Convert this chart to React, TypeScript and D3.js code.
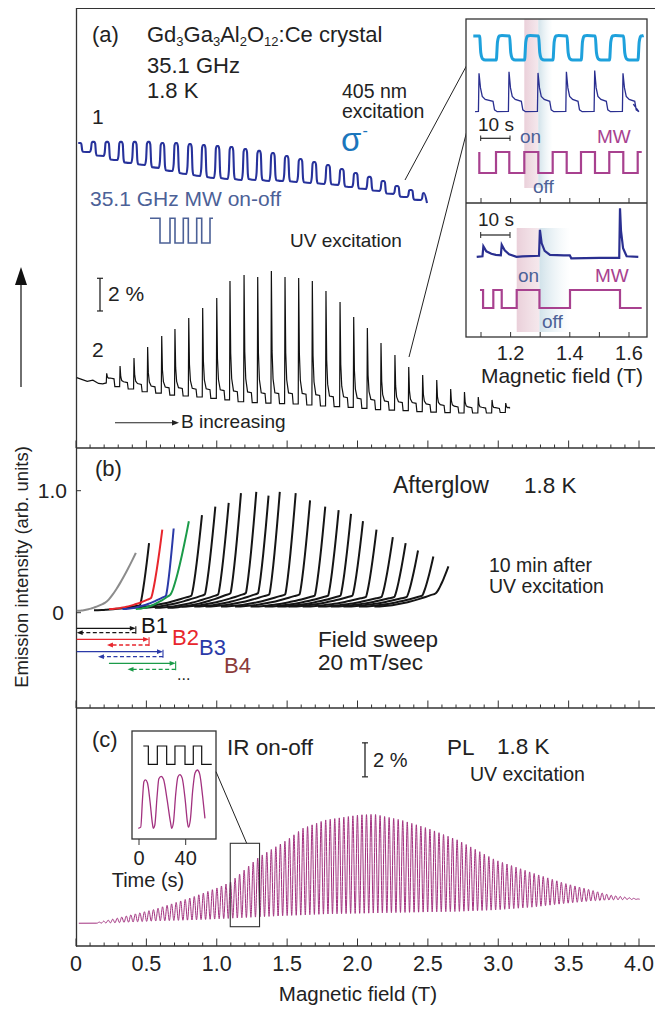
import React from "react";
import * as d3 from "d3";

const FONT = "'Liberation Sans', Arial, Helvetica, sans-serif";

// ---------- shared magnetic-field axis ----------
const fieldLabelValues = [0, 0.5, 1.0, 1.5, 2.0, 2.5, 3.0, 3.5, 4.0];
const fieldLabels = ["0", "0.5", "1.0", "1.5", "2.0", "2.5", "3.0", "3.5", "4.0"];

// ---------- panel (a), trace 1: 405 nm excitation, MW on-off dips (%) ----------
const t1DipField = [0.076, 0.174, 0.272, 0.37, 0.468, 0.566, 0.664, 0.762, 0.86, 0.958, 1.056, 1.155, 1.253,
  1.351, 1.449, 1.547, 1.645, 1.743, 1.841, 1.939, 2.037, 2.135, 2.233, 2.331, 2.429];
const t1Top = [18.65, 18.72, 18.72, 18.72, 18.72, 18.72, 18.65, 18.65, 18.59, 18.53, 18.47, 18.41, 18.29,
  18.17, 18.04, 17.86, 17.68, 17.49, 17.31, 17.06, 16.82, 16.58, 16.33, 16.02, 15.78];
const t1Bottom = [18.1, 17.86, 17.61, 17.43, 17.31, 17.13, 16.94, 16.76, 16.64, 16.51, 16.45, 16.39, 16.39,
  16.33, 16.33, 16.27, 16.21, 16.15, 16.09, 15.96, 15.84, 15.72, 15.54, 15.35, 15.17];
const t1Begin = { field: 0.016, value: 18.65 };
const t1LastTop = 15.6;
const t1Finish = { field: 2.494, value: 14.98 };

// ---------- panel (a), trace 2: UV excitation, spikes at MW switching (%) ----------
const t2PreField = [0.005, 0.04, 0.08, 0.12, 0.16, 0.19, 0.215];
const t2PreValue = [4.3, 4.2, 4.08, 4.15, 3.95, 3.92, 3.98];
const t2SpikeField = [0.218, 0.313, 0.412, 0.509, 0.609, 0.703, 0.801, 0.9, 1.0, 1.094, 1.194, 1.291, 1.388,
  1.485, 1.582, 1.679, 1.776, 1.876, 1.973, 2.07, 2.167, 2.266, 2.364, 2.463, 2.563, 2.662, 2.76, 2.858, 2.956, 3.053];
const t2SpikeTop = [4.57, 5.02, 5.5, 6.18, 6.85, 7.28, 7.95, 8.56, 9.17, 10.21, 10.58, 10.46, 10.83, 10.46, 10.4,
  10.21, 9.6, 8.93, 8.01, 7.34, 6.42, 5.69, 4.95, 4.46, 4.16, 3.61, 3.43, 3.12, 2.94, 2.75];
const t2Low = [3.98, 3.75, 3.61, 3.44, 3.36, 3.24, 3.18, 3.12, 3.03, 2.94, 2.83, 2.78, 2.75, 2.72, 2.69, 2.63,
  2.57, 2.53, 2.48, 2.42, 2.35, 2.32, 2.29, 2.23, 2.2, 2.16, 2.14, 2.14, 2.14, 2.17];
const t2Step = [0.25, 0.25, 0.28, 0.3, 0.32, 0.4, 0.42, 0.45, 0.48, 0.5, 0.55, 0.55, 0.58, 0.6, 0.6, 0.58, 0.56,
  0.55, 0.52, 0.5, 0.48, 0.46, 0.44, 0.42, 0.4, 0.35, 0.32, 0.3, 0.28, 0.26];
const t2EndField = 3.083;

// ---------- panel (a) insets (field in T) ----------
const mwUpperEdges = [1.0943, 1.1507, 1.1956, 1.2463, 1.2936, 1.3422, 1.3895, 1.4378, 1.4851, 1.5334, 1.5807, 1.6294];
const mwUpperRange = [1.0943, 1.643];
const blueUpperRange = [1.074, 1.647];
const navyUpperSpike = [1.0, 1.04, 1.01, 1.04, 1.07, 1.0];
const navyUpperRange = [1.08, 1.6145];
const mwLowerEdges = [1.107, 1.1416, 1.17, 1.2206, 1.2975, 1.4007, 1.5696];
const mwLowerRange = [1.0966, 1.6429];
const navyLowerField = [1.0855, 1.105, 1.108, 1.118, 1.135, 1.15, 1.167, 1.17, 1.18, 1.195, 1.22, 1.24, 1.296,
  1.299, 1.305, 1.315, 1.333, 1.38, 1.4, 1.405, 1.5, 1.567, 1.5696, 1.573, 1.58, 1.592, 1.6314];
const navyLowerValue = [0.03, 0.04, 0.24, 0.14, 0.09, 0.07, 0.06, 0.27, 0.16, 0.08, 0.03, 0.04, 0.05, 0.57, 0.3,
  0.15, 0.07, 0.06, 0.06, 0.0, 0.01, 0.01, 1.0, 0.55, 0.2, 0.04, 0.03];
const insetTickValues = [1.1, 1.2, 1.3, 1.4, 1.5, 1.6];
const insetLabelValues = [1.2, 1.4, 1.6];

// ---------- panel (b): afterglow field sweeps ----------
const agEnd = [0.425, 0.519, 0.613, 0.694, 0.802, 0.895, 0.99, 1.085, 1.172, 1.281, 1.368, 1.448, 1.561, 1.663,
  1.771, 1.866, 1.954, 2.039, 2.135, 2.251, 2.342, 2.43, 2.539, 2.646];
const agPeak = [0.49, 0.57, 0.68, 0.69, 0.75, 0.8, 0.87, 0.9, 0.98, 0.99, 0.96, 0.99, 0.98, 0.92, 0.87, 0.84,
  0.81, 0.75, 0.68, 0.62, 0.57, 0.51, 0.46, 0.38];
const agStart = [0.005, 0.128, 0.235, 0.33, 0.425, 0.37, 0.46, 0.56, 0.65, 0.75, 0.84, 0.92, 1.03, 1.13, 1.24,
  1.34, 1.43, 1.51, 1.61, 1.72, 1.81, 1.9, 2.01, 2.12];
const agStartVal = [0.015, 0.02, 0.03, 0.03, 0.03, 0.04, 0.04, 0.04, 0.04, 0.05, 0.05, 0.05, 0.05, 0.05, 0.05,
  0.05, 0.05, 0.05, 0.05, 0.05, 0.05, 0.05, 0.05, 0.05];
const agKneeVal = [0.08, 0.06, 0.12, 0.14, 0.15, 0.14, 0.15, 0.15, 0.16, 0.16, 0.16, 0.15, 0.15, 0.15, 0.14,
  0.14, 0.14, 0.14, 0.13, 0.13, 0.13, 0.13, 0.14, 0.16];
const agRise = [0.22, 0.065, 0.08, 0.055, 0.13, 0.075, 0.075, 0.075, 0.075, 0.075, 0.075, 0.075, 0.075, 0.075,
  0.075, 0.075, 0.075, 0.075, 0.075, 0.08, 0.08, 0.08, 0.08, 0.09];
const agColor = ["#8c8c8c", "#151515", "#e8262d", "#2b3aa8", "#1b9b49", "#151515", "#151515", "#151515",
  "#151515", "#151515", "#151515", "#151515", "#151515", "#151515", "#151515", "#151515", "#151515", "#151515",
  "#151515", "#151515", "#151515", "#151515", "#151515", "#151515"];
const sweepColor = ["#151515", "#e8262d", "#2b3aa8", "#1b9b49"];
const sweepForward = [[0.005, 0.425], [0.005, 0.519], [0.005, 0.618], [0.234, 0.708]];
const sweepBack = [[0.425, 0.005], [0.519, 0.22], [0.618, 0.156], [0.708, 0.366]];
const sweepRowY = [[628.3, 632.7], [639.3, 645], [651.7, 656.7], [663.3, 669.3]];

// ---------- panel (c): PL under IR on-off (%) ----------
const plEnvField = [0, 0.13, 0.29, 0.56, 0.83, 1.0, 1.1, 1.3, 1.5, 1.61, 1.77, 2.01, 2.12, 2.31, 2.5, 2.71,
  2.98, 3.25, 3.47, 3.66, 3.79, 4.01];
const plUpper = [1.34, 1.34, 1.63, 2.16, 2.88, 3.41, 3.77, 5.24, 6.24, 6.92, 7.41, 7.71, 7.75, 7.41, 6.92, 6.24,
  5.06, 4.28, 3.69, 3.29, 3.0, 2.75];
const plLower = [1.34, 1.34, 1.37, 1.47, 1.53, 1.59, 1.63, 1.71, 1.79, 1.82, 1.88, 1.92, 1.94, 1.97, 2.0, 2.03,
  2.12, 2.29, 2.5, 2.65, 2.71, 2.75];
const plFirstPeak = 0.164;
const plPeriod = 0.0322;
const plRange = [0.02, 4.007];
const irEdges = [8.0, 15.7, 23.7, 30.8, 39.4, 46.5, 53.7];
const irRange = [3.7, 62.3];
const irPlTime = [-0.6, 1.5, 3.0, 4.2, 5.5, 7.2, 9.5, 11.5, 12.3, 13.5, 15.5, 17.0, 19.0, 21.0, 24.0, 27.0, 28.0,
  29.5, 31.5, 33.3, 35.0, 37.0, 39.5, 41.5, 42.3, 44.0, 46.0, 48.0, 50.0, 52.0, 54.5, 56.5];
const irPlValue = [0, 0.02, 0.5, 0.8, 0.83, 0.78, 0.45, 0.08, 0.0, 0.05, 0.55, 0.85, 0.89, 0.84, 0.5, 0.1, 0.0,
  0.1, 0.6, 0.88, 0.92, 0.86, 0.5, 0.1, 0.02, 0.15, 0.65, 0.95, 1.0, 0.93, 0.55, 0.17];

type P = [number, number];

function stepPoints(edges: number[], range: number[], startHigh: boolean): P[] {
  let s = startHigh ? 1 : 0;
  const pts: P[] = [[range[0], s]];
  edges.forEach((e) => {
    pts.push([e, s]);
    s = 1 - s;
    pts.push([e, s]);
  });
  pts.push([range[1], s]);
  return pts;
}

export default function App() {
  const xF = d3.scaleLinear().domain([0, 4]).range([76, 639]);
  const yA = d3.scaleLinear().domain([0, 27.4]).range([448, 0]);
  const yB = d3.scaleLinear().domain([0, 1]).range([612.7, 490.7]);
  const yC = d3.scaleLinear().domain([0, 14]).range([946, 708]);

  const xI = d3.scaleLinear().domain([1.1, 1.6]).range([481, 629]);
  const yLB = d3.scaleLinear().domain([0, 1]).range([60, 36]);
  const yN = d3.scaleLinear().domain([0, 1]).range([111.7, 73.3]);
  const yMW1 = d3.scaleLinear().domain([0, 1]).range([173, 152]);
  const yN2 = d3.scaleLinear().domain([0, 1]).range([258.3, 208.3]);
  const yMW2 = d3.scaleLinear().domain([0, 1]).range([308, 290]);

  const xT = d3.scaleLinear().domain([0, 40]).range([139, 185.7]);
  const yIR = d3.scaleLinear().domain([0, 1]).range([764.3, 746]);
  const yIRPL = d3.scaleLinear().domain([0, 1]).range([828.3, 770]);

  // trace 1
  const t1Pts: P[] = [[t1Begin.field, t1Begin.value]];
  const fallDx = [-0.045, -0.038, -0.032, -0.026];
  const fallFr = [1, 0.9, 0.2, 0.03];
  const riseDx = [0.022, 0.03, 0.036, 0.043];
  const riseFr = [0, 0.25, 0.92, 1];
  t1DipField.forEach((c, k) => {
    const top = t1Top[k];
    const bot = t1Bottom[k];
    const next = k + 1 < t1Top.length ? t1Top[k + 1] : t1LastTop;
    fallDx.forEach((dx, i) => t1Pts.push([c + dx, bot + (top - bot) * fallFr[i]]));
    riseDx.forEach((dx, i) => t1Pts.push([c + dx, bot + (next - bot) * riseFr[i]]));
  });
  t1Pts.push([t1Finish.field, t1Finish.value]);
  const t1Path = d3.line<P>().x((d) => xF(d[0])).y((d) => yA(d[1])).curve(d3.curveMonotoneX)(t1Pts) || "";

  // trace 2
  const t2Pts: P[] = t2PreField.map((f, i) => [f, t2PreValue[i]] as P);
  t2SpikeField.forEach((s, k) => {
    const low = t2Low[k];
    const top = t2SpikeTop[k];
    const pl = low + t2Step[k];
    t2Pts.push([s - 0.003, low], [s, top], [s + 0.005, pl + (top - pl) * 0.35], [s + 0.012, pl + (top - pl) * 0.12],
      [s + 0.025, pl + 0.05]);
    if (k + 1 < t2SpikeField.length) {
      t2Pts.push([s + 0.052, pl], [s + 0.058, t2Low[k + 1]]);
    } else {
      t2Pts.push([t2EndField, pl]);
    }
  });
  const t2Path = d3.line<P>().x((d) => xF(d[0])).y((d) => yA(d[1]))(t2Pts) || "";

  // upper inset traces
  const mwUpperPath = d3.line<P>().x((d) => xI(d[0])).y((d) => yMW1(d[1]))(stepPoints(mwUpperEdges, mwUpperRange, true)) || "";
  const lbPts: P[] = [[blueUpperRange[0], 1]];
  mwUpperEdges.forEach((e, i) => {
    if (i % 2 === 0) {
      lbPts.push([e + 0.001, 1], [e + 0.005, 0.3], [e + 0.011, 0.05], [e + 0.02, 0]);
    } else {
      lbPts.push([e + 0.001, 0], [e + 0.005, 0.75], [e + 0.011, 1.0], [e + 0.02, 1.02]);
    }
  });
  lbPts.push([blueUpperRange[1], 1]);
  const lbPath = d3.line<P>().x((d) => xI(d[0])).y((d) => yLB(d[1])).curve(d3.curveMonotoneX)(lbPts) || "";

  const nvPts: P[] = [[navyUpperRange[0], 0]];
  let spikeIdx = 0;
  mwUpperEdges.forEach((e, i) => {
    if (i % 2 === 0) {
      const top = navyUpperSpike[spikeIdx++];
      nvPts.push([e - 0.003, 0.01], [e - 0.001, top], [e + 0.004, 0.62], [e + 0.01, 0.4], [e + 0.02, 0.32]);
    } else {
      nvPts.push([e - 0.01, 0.27], [e - 0.005, 0.05], [e + 0.004, 0]);
    }
  });
  nvPts.push([navyUpperRange[1], 0.2]);
  const nvPath = d3.line<P>().x((d) => xI(d[0])).y((d) => yN(d[1]))(nvPts) || "";

  // lower inset traces
  const mwLowerPath = d3.line<P>().x((d) => xI(d[0])).y((d) => yMW2(d[1]))(stepPoints(mwLowerEdges, mwLowerRange, true)) || "";
  const nv2Path = d3.line<P>().x((d) => xI(d[0])).y((d) => yN2(d[1]))(navyLowerField.map((f, i) => [f, navyLowerValue[i]] as P)) || "";

  // afterglow curves
  const agPaths = agEnd.map((end, i) => {
    const knee = end - agRise[i];
    const pts: P[] = [];
    for (let j = 0; j <= 12; j++) {
      const u = j / 12;
      pts.push([agStart[i] + (knee - agStart[i]) * u, agStartVal[i] + (agKneeVal[i] - agStartVal[i]) * Math.pow(u, 1.8)]);
    }
    for (let j = 1; j <= 8; j++) {
      const u = j / 8;
      pts.push([knee + (end - knee) * u, agKneeVal[i] + (agPeak[i] - agKneeVal[i]) * Math.pow(u, 1.3)]);
    }
    return d3.line<P>().x((d) => xF(d[0])).y((d) => yB(d[1])).curve(d3.curveMonotoneX)(pts) || "";
  });
  const agOrder = agEnd.map((_, i) => i).sort((a, b) => {
    const ca = agColor[a] === "#151515" || a === 0 ? 0 : 1;
    const cb = agColor[b] === "#151515" || b === 0 ? 0 : 1;
    return ca - cb;
  });

  // PL trace
  const upperAt = d3.scaleLinear().domain(plEnvField).range(plUpper);
  const lowerAt = d3.scaleLinear().domain(plEnvField).range(plLower);
  const plPts: P[] = [[plRange[0], lowerAt(plRange[0])]];
  const nSamp = 14;
  for (let k = 0; ; k++) {
    const peak = plFirstPeak + k * plPeriod;
    const v0 = peak - plPeriod / 2;
    if (v0 > plRange[1]) break;
    for (let j = 0; j < nSamp; j++) {
      const ph = j / nSamp;
      const f = v0 + ph * plPeriod;
      if (f > plRange[1]) break;
      const w = 0.5 - 0.5 * Math.cos(2 * Math.PI * ph);
      const lo = lowerAt(f);
      plPts.push([f, lo + (upperAt(f) - lo) * w]);
    }
  }
  const plPath = d3.line<P>().x((d) => xF(d[0])).y((d) => yC(d[1])).curve(d3.curveMonotoneX)(plPts) || "";

  const irPath = d3.line<P>().x((d) => xT(d[0])).y((d) => yIR(d[1]))(stepPoints(irEdges, irRange, true)) || "";
  const irPlPath = d3.line<P>().x((d) => xT(d[0])).y((d) => yIRPL(d[1])).curve(d3.curveMonotoneX)(
    irPlTime.map((t, i) => [t, irPlValue[i]] as P)) || "";

  const fieldTicks = xF.ticks(40);
  const isMajor = (t: number) => Math.abs(t * 2 - Math.round(t * 2)) < 1e-6;
  const axisBases = [448, 708, 946];

  const slate = "#4c6197";
  const magenta = "#a8418f";
  const navy = "#2a2f90";

  // shading windows derived from MW switching
  const upPinkX0 = xI(mwUpperEdges[3]);
  const upPinkX1 = xI(mwUpperEdges[4]);
  const upBlueX1 = xI(mwUpperEdges[5]);
  const loPinkX0 = xI(mwLowerEdges[3]);
  const loPinkX1 = xI(mwLowerEdges[4]);
  const loBlueX1 = xI(mwLowerEdges[5]);

  const arrowHead = (x: number, y: number, dir: number, len = 6, half = 2.6) =>
    `M${x},${y}L${x - dir * len},${y - half}L${x - dir * len},${y + half}Z`;

  return (
    <svg width={655} height={1009} viewBox="0 0 655 1009"
      style={{ position: "absolute", left: 0, top: 0, background: "#fff", fontFamily: FONT }}>
      <defs>
        <linearGradient id="pinkShade" x1="0" x2="1" y1="0" y2="0">
          <stop offset="0" stopColor="#d9a9bb" stopOpacity={0.55} />
          <stop offset="1" stopColor="#e9ccd6" stopOpacity={0.45} />
        </linearGradient>
        <linearGradient id="blueShade" x1="0" x2="1" y1="0" y2="0">
          <stop offset="0" stopColor="#c9dde6" stopOpacity={0.85} />
          <stop offset="1" stopColor="#e3eef3" stopOpacity={0} />
        </linearGradient>
      </defs>
      <rect x={0} y={0} width={655} height={1009} fill="#fff" />

      {/* frame */}
      <line x1={76} x2={660} y1={8.5} y2={8.5} stroke="#333" strokeWidth={1.2} />
      <line x1={76.5} x2={76.5} y1={8} y2={946.5} stroke="#333" strokeWidth={1.3} />
      {axisBases.map((yb) => (
        <g key={yb}>
          <line x1={76} x2={660} y1={yb} y2={yb} stroke="#333" strokeWidth={1.3} />
          {fieldTicks.map((t) => (
            <line key={t} x1={xF(t)} x2={xF(t)} y1={yb} y2={yb - (isMajor(t) ? 7.5 : 3.5)} stroke="#333" strokeWidth={1} />
          ))}
        </g>
      ))}
      {fieldLabelValues.map((v, i) => (
        <text key={v} x={xF(v)} y={971} fontSize={21.5} textAnchor="middle" fill="#222">{fieldLabels[i]}</text>
      ))}
      <text x={358} y={1001} fontSize={20.5} textAnchor="middle" fill="#222">Magnetic field (T)</text>

      {/* y title with arrow */}
      <line x1={21} x2={21} y1={387} y2={283} stroke="#222" strokeWidth={1.3} />
      <path d="M21,267L15,285L27,285Z" fill="#111" />
      <text transform="translate(28,567) rotate(-90)" fontSize={18.5} textAnchor="middle" fill="#222">
        Emission intensity (arb. units)
      </text>

      {/* ---------------- panel (a) ---------------- */}
      <text x={92} y={42} fontSize={22} fill="#222">(a)</text>
      <text x={147} y={42} fontSize={22} fill="#222">
        Gd<tspan fontSize={13} dy={4}>3</tspan><tspan dy={-4}>Ga</tspan><tspan fontSize={13} dy={4}>3</tspan>
        <tspan dy={-4}>Al</tspan><tspan fontSize={13} dy={4}>2</tspan><tspan dy={-4}>O</tspan>
        <tspan fontSize={13} dy={4}>12</tspan><tspan dy={-4}>:Ce crystal</tspan>
      </text>
      <text x={147} y={73} fontSize={22} fill="#222">35.1 GHz</text>
      <text x={147} y={98} fontSize={22} fill="#222">1.8 K</text>
      <text x={92} y={124} fontSize={21} fill="#222">1</text>
      <text x={342} y={97.5} fontSize={19.5} fill="#222">405 nm</text>
      <text x={342} y={117.5} fontSize={19.5} fill="#222">excitation</text>
      <text x={341} y={151} fontSize={33} fill="#1b76bc">σ<tspan fontSize={16} dx={1} dy={-15}>-</tspan></text>

      <path d={t1Path} fill="none" stroke="#27329b" strokeWidth={2.1} />

      <text x={90} y={206} fontSize={21} fill={slate}>35.1 GHz MW on-off</text>
      <path d="M150,218.3H160V243H170V218.3H175V243H183.3V218.3H188.3V243H196.7V218.3H201.7V243H210V218.3H213"
        fill="none" stroke={slate} strokeWidth={1.6} />
      <text x={290} y={247} fontSize={19} fill="#222">UV excitation</text>

      {/* 2 % scale bar */}
      <line x1={100} x2={100} y1={yA(8.38)} y2={yA(10.38)} stroke="#222" strokeWidth={1.3} />
      <line x1={97} x2={103} y1={yA(8.38)} y2={yA(8.38)} stroke="#222" strokeWidth={1.2} />
      <line x1={97} x2={103} y1={yA(10.38)} y2={yA(10.38)} stroke="#222" strokeWidth={1.2} />
      <text x={108} y={301} fontSize={21} fill="#222">2 %</text>
      <text x={92} y={357} fontSize={21} fill="#222">2</text>

      <path d={t2Path} fill="none" stroke="#111" strokeWidth={1.2} />

      <line x1={115} x2={173} y1={422.7} y2={422.7} stroke="#222" strokeWidth={1.1} />
      <path d={arrowHead(179, 422.7, 1, 7, 2.8)} fill="#222" />
      <text x={181} y={428} fontSize={19} fill="#222">B increasing</text>

      {/* connector lines to insets */}
      <line x1={405} y1={180} x2={475} y2={50} stroke="#222" strokeWidth={1} />
      <line x1={409} y1={357} x2={472} y2={111} stroke="#222" strokeWidth={1} />

      {/* insets */}
      <rect x={466} y={19} width={181} height={318} fill="#fff" />
      <rect x={upPinkX0} y={19} width={upPinkX1 - upPinkX0} height={169} fill="url(#pinkShade)" />
      <rect x={upPinkX1} y={19} width={upBlueX1 - upPinkX1} height={169} fill="url(#blueShade)" />
      <rect x={loPinkX0} y={228} width={loPinkX1 - loPinkX0} height={104} fill="url(#pinkShade)" />
      <rect x={loPinkX1} y={228} width={loBlueX1 - loPinkX1} height={104} fill="url(#blueShade)" />
      <rect x={466} y={19} width={181} height={318} fill="none" stroke="#333" strokeWidth={1.3} />
      <line x1={466} x2={647} y1={203} y2={203} stroke="#333" strokeWidth={1.3} />
      {insetTickValues.map((t) => (
        <g key={t}>
          <line x1={xI(t)} x2={xI(t)} y1={203} y2={198} stroke="#333" strokeWidth={1} />
          <line x1={xI(t)} x2={xI(t)} y1={337} y2={332} stroke="#333" strokeWidth={1} />
        </g>
      ))}
      {insetLabelValues.map((t) => (
        <text key={t} x={xI(t)} y={360} fontSize={20} textAnchor="middle" fill="#222">{t.toFixed(1)}</text>
      ))}
      <text x={562} y={383} fontSize={21} textAnchor="middle" fill="#222">Magnetic field (T)</text>

      <path d={lbPath} fill="none" stroke="#1ea1dc" strokeWidth={3} />
      <path d={nvPath} fill="none" stroke={navy} strokeWidth={1.3} />
      <path d={mwUpperPath} fill="none" stroke={magenta} strokeWidth={2.2} />
      <line x1={480.7} x2={510} y1={138.3} y2={138.3} stroke="#222" strokeWidth={1.2} />
      <line x1={480.7} x2={480.7} y1={135.5} y2={141} stroke="#222" strokeWidth={1} />
      <line x1={510} x2={510} y1={135.5} y2={141} stroke="#222" strokeWidth={1} />
      <text x={478} y={131} fontSize={19} fill="#222">10 s</text>
      <text x={520} y={143} fontSize={19} fill={slate}>on</text>
      <text x={597} y={143} fontSize={19} fill={magenta}>MW</text>
      <text x={533} y={193} fontSize={19} fill={slate}>off</text>

      <path d={nv2Path} fill="none" stroke={navy} strokeWidth={2.2} />
      <path d={mwLowerPath} fill="none" stroke={magenta} strokeWidth={2.2} />
      <line x1={480.7} x2={510} y1={235} y2={235} stroke="#222" strokeWidth={1.2} />
      <line x1={480.7} x2={480.7} y1={232} y2={238} stroke="#222" strokeWidth={1} />
      <line x1={510} x2={510} y1={232} y2={238} stroke="#222" strokeWidth={1} />
      <text x={478} y={226} fontSize={19} fill="#222">10 s</text>
      <text x={518} y={282} fontSize={19} fill={slate}>on</text>
      <text x={595} y={282} fontSize={19} fill={magenta}>MW</text>
      <text x={542} y={328} fontSize={19} fill={slate}>off</text>

      {/* ---------------- panel (b) ---------------- */}
      <text x={95} y={476} fontSize={22} fill="#222">(b)</text>
      <line x1={76} x2={81} y1={yB(1)} y2={yB(1)} stroke="#333" strokeWidth={1} />
      <line x1={76} x2={81} y1={yB(0)} y2={yB(0)} stroke="#333" strokeWidth={1} />
      <text x={67} y={yB(1) + 7} fontSize={21} textAnchor="end" fill="#222">1.0</text>
      <text x={64} y={yB(0) + 7} fontSize={21} textAnchor="end" fill="#222">0</text>
      <text x={393} y={493} fontSize={23} fill="#222">Afterglow</text>
      <text x={524} y={493} fontSize={22.5} fill="#222">1.8 K</text>
      <text x={489} y={572} fontSize={19.5} fill="#222">10 min after</text>
      <text x={489} y={593} fontSize={19.5} fill="#222">UV excitation</text>

      {agOrder.map((i) => (
        <path key={i} d={agPaths[i]} fill="none" stroke={agColor[i]} strokeWidth={2} strokeLinejoin="round" />
      ))}

      {sweepColor.map((c, i) => {
        const [fy, by] = sweepRowY[i];
        const fx0 = xF(sweepForward[i][0]);
        const fx1 = xF(sweepForward[i][1]);
        const bx0 = xF(sweepBack[i][0]);
        const bx1 = xF(sweepBack[i][1]);
        return (
          <g key={i}>
            <line x1={fx0} x2={fx1 - 5} y1={fy} y2={fy} stroke={c} strokeWidth={1.3} />
            <path d={arrowHead(fx1, fy, 1, 6, 2.4)} fill={c} />
            <line x1={bx0} x2={bx1 + 5} y1={by} y2={by} stroke={c} strokeWidth={1.3} strokeDasharray="4,2.5" />
            <path d={arrowHead(bx1, by, -1, 6, 2.4)} fill={c} />
            <line x1={fx1} x2={fx1} y1={fy - 2} y2={by + 1} stroke={c} strokeWidth={1.1} />
          </g>
        );
      })}
      <text x={141} y={633} fontSize={22} fill="#151515">B1</text>
      <text x={172} y={645} fontSize={22} fill="#e8262d">B2</text>
      <text x={199} y={655} fontSize={22} fill="#2b3aa8">B3</text>
      <text x={224} y={673} fontSize={22} fill="#8b3b3a">B4</text>
      <text x={177} y={680} fontSize={16} fill="#222">...</text>
      <text x={318} y={647} fontSize={22.5} fill="#222">Field sweep</text>
      <text x={318} y={670} fontSize={22.5} fill="#222">20 mT/sec</text>

      {/* ---------------- panel (c) ---------------- */}
      <text x={92} y={747} fontSize={22} fill="#222">(c)</text>
      <path d={plPath} fill="none" stroke="#a2317f" strokeWidth={1} />

      <rect x={132} y={731} width={84} height={108} fill="#fff" stroke="#333" strokeWidth={1.3} />
      <path d={irPath} fill="none" stroke="#111" strokeWidth={1.2} />
      <path d={irPlPath} fill="none" stroke="#a2317f" strokeWidth={1.3} />
      <line x1={xT(0)} x2={xT(0)} y1={839} y2={845} stroke="#333" strokeWidth={1} />
      <line x1={xT(40)} x2={xT(40)} y1={839} y2={845} stroke="#333" strokeWidth={1} />
      <text x={xT(0)} y={865} fontSize={20} textAnchor="middle" fill="#222">0</text>
      <text x={xT(40)} y={865} fontSize={20} textAnchor="middle" fill="#222">40</text>
      <text x={148} y={887} fontSize={20} textAnchor="middle" fill="#222">Time (s)</text>
      <line x1={216} y1={771.7} x2={246.7} y2={843.3} stroke="#222" strokeWidth={1} />
      <rect x={xF(1.096)} y={843.3} width={xF(1.304) - xF(1.096)} height={83.4} fill="none" stroke="#333" strokeWidth={1.1} />

      <text x={227} y={755} fontSize={22.5} fill="#222">IR on-off</text>
      <line x1={365} x2={365} y1={yC(9.95)} y2={yC(11.95)} stroke="#222" strokeWidth={1.3} />
      <line x1={362} x2={368} y1={yC(9.95)} y2={yC(9.95)} stroke="#222" strokeWidth={1.2} />
      <line x1={362} x2={368} y1={yC(11.95)} y2={yC(11.95)} stroke="#222" strokeWidth={1.2} />
      <text x={373} y={767} fontSize={20} fill="#222">2 %</text>
      <text x={447} y={755} fontSize={22.5} fill="#222">PL</text>
      <text x={497} y={754} fontSize={22.5} fill="#222">1.8 K</text>
      <text x={470} y={781} fontSize={19.5} fill="#222">UV excitation</text>
    </svg>
  );
}
